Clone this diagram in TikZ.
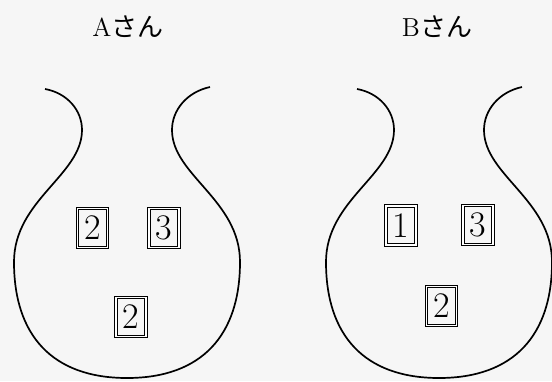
\documentclass[tikz,border=0pt]{standalone}
\usepackage{fontspec}
\newfontfamily\jpfont{Noto Sans CJK JP}
\usetikzlibrary{positioning}

\begin{document}
\begin{tikzpicture}[
    x=0.5pt, y=-0.5pt,
    personlabel/.style={font=\fontsize{13}{15}\selectfont},
    card/.style={draw, double, double distance=0.55pt, line width=0.6pt, minimum width=15pt, minimum height=19.5pt, inner sep=0pt, font=\fontsize{18}{21}\selectfont},
    vase/.pic={
        \draw[line width=0.85pt] (-82,89) .. controls (-60,93) and (-45,110) .. (-45,130)
            .. controls (-45,175) and (-113,200) .. (-113,262)
            .. controls (-113,335) and (-75,378) .. (0,378)
            .. controls (75,378) and (113,335) .. (113,262)
            .. controls (113,200) and (45,175) .. (45,130)
            .. controls (45,110) and (60,92) .. (83,87);
    }
]

% background of the page
\fill[gray!7] (0,0) rectangle (552,381);
\useasboundingbox (0,0) rectangle (552,381);

% Person A
\node[personlabel] (labelA) at (128,27) {A{\jpfont さん}};
\pic (vaseA) at (127,0) {vase};
\node[card] (cardA1) at (92.5,228) {2};
\node[card] (cardA2) at (164,228) {3};
\node[card] (cardA3) at (131,317) {2};

% Person B
\node[personlabel] (labelB) at (437,27) {B{\jpfont さん}};
\pic (vaseB) at (439,0) {vase};
\node[card] (cardB1) at (401,225.5) {1};
\node[card] (cardB2) at (478,225) {3};
\node[card] (cardB3) at (441.5,306) {2};

\end{tikzpicture}
\end{document}
